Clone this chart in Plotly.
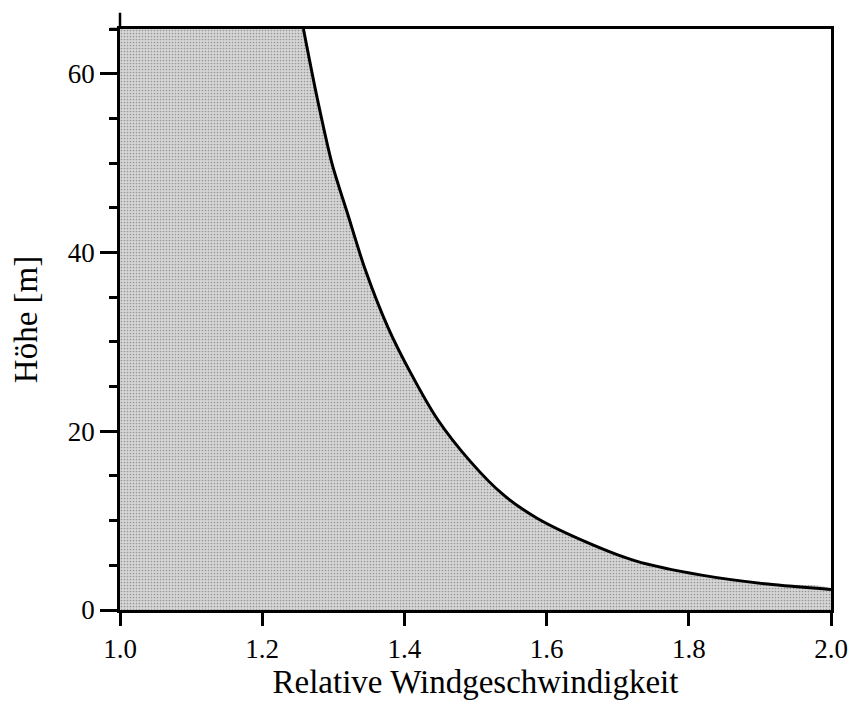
import plotly.graph_objects as go

# wind profile: relative speed vs height [m]
speed = [1.258, 1.277, 1.298, 1.321, 1.344, 1.377, 1.409, 1.446,
         1.493, 1.539, 1.586, 1.656, 1.725, 1.818, 1.911, 2.0]
height = [65.0, 57.4, 50.0, 44.1, 38.3, 31.6, 26.5, 21.4,
          16.6, 12.9, 10.3, 7.6, 5.5, 3.9, 2.9, 2.3]

x_ticks = [1.0, 1.2, 1.4, 1.6, 1.8, 2.0]
y_ticks = [0, 20, 40, 60]

serif = "Liberation Serif, Times New Roman, serif"

fig = go.Figure()

# shaded area between the left axis and the profile
fill_x = speed + [2.0, 1.0, 1.0]
fill_y = height + [0, 0, 65]
fig.add_trace(
    go.Scatter(
        x=fill_x,
        y=fill_y,
        mode="lines",
        fill="toself",
        line=dict(width=0, shape="spline", smoothing=0.8),
        fillcolor="#cfcfcf",
        fillpattern=dict(shape=".", fgcolor="#555555", bgcolor="#d6d6d6",
                         size=3, solidity=0.25),
        hoverinfo="skip",
        showlegend=False,
    )
)

fig.add_trace(
    go.Scatter(
        x=speed,
        y=height,
        mode="lines",
        line=dict(color="black", width=3, shape="spline", smoothing=0.8),
        showlegend=False,
    )
)

axis_common = dict(
    showgrid=False,
    zeroline=False,
    showline=True,
    linecolor="black",
    linewidth=2.5,
    ticks="outside",
    tickcolor="black",
    tickwidth=2.5,
    mirror=True,
    tickfont=dict(family=serif, size=27, color="black"),
)

fig.update_xaxes(
    range=[1.0, 2.0],
    tickvals=x_ticks,
    ticktext=["%.1f" % v for v in x_ticks],
    ticklen=13,
    title=dict(text="Relative Windgeschwindigkeit",
               font=dict(family=serif, size=33, color="black"), standoff=6),
    **axis_common,
)
fig.update_yaxes(
    range=[0, 65],
    tickvals=y_ticks,
    ticklen=17,
    minor=dict(dtick=5, ticks="outside", ticklen=8, tickwidth=2.5,
               tickcolor="black"),
    title=dict(text="Höhe [m]",
               font=dict(family=serif, size=33, color="black"), standoff=22),
    **axis_common,
)

# the left axis runs a little above the top frame line
fig.add_shape(type="line", xref="paper", yref="paper", x0=0, x1=0,
              y0=1, y1=1.028, line=dict(color="black", width=2.5))
fig.add_shape(type="line", xref="paper", yref="paper", x0=-0.014, x1=0,
              y0=1, y1=1, line=dict(color="black", width=2.5))

fig.update_layout(
    width=852,
    height=697,
    margin=dict(l=112, r=23, t=21, b=88),
    paper_bgcolor="white",
    plot_bgcolor="white",
)

fig.write_html("out.html")
